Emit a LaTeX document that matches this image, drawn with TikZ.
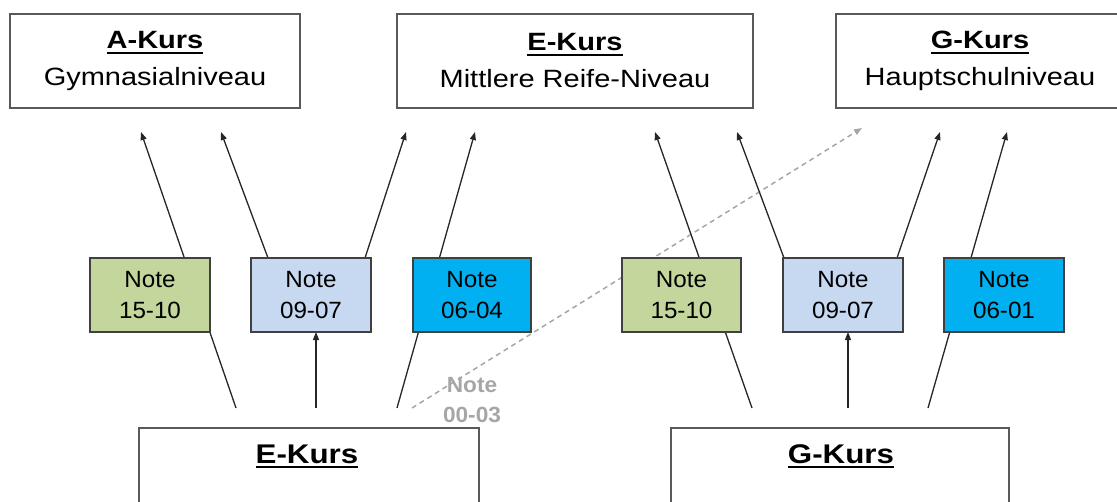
\documentclass[tikz,border=0pt]{standalone}
\usepackage{fontspec}
\setmainfont{Liberation Sans}
\newfontfamily\ttlfont{Liberation Sans}[FakeStretch=1.16]
\newfontfamily\notefont{Liberation Sans}[FakeStretch=1.03]
\usetikzlibrary{arrows.meta,backgrounds}
\definecolor{lnc}{HTML}{262626}
\definecolor{boxc}{HTML}{595959}
\definecolor{nbc}{HTML}{404040}
\definecolor{ngreen}{HTML}{C3D69B}
\definecolor{nlblue}{HTML}{C6D9F1}
\definecolor{nblue}{HTML}{00B0F0}
\definecolor{gtxt}{HTML}{A6A6A6}
\newcommand\myul[1]{\setbox0\hbox{#1}\rlap{\rule[-5pt]{\wd0}{2pt}}\box0}
\tikzset{
  topbox/.style={draw=boxc, line width=1.8pt, fill=white, inner sep=0pt,
    minimum height=94pt, align=center, text=black,
    font=\ttlfont\fontsize{25}{37}\selectfont},
  botbox/.style={draw=boxc, line width=1.8pt, fill=white, inner sep=0pt,
    minimum height=100pt, anchor=north},
  bottext/.style={anchor=base, inner sep=0pt, font=\ttlfont\fontsize{27}{32}\selectfont},
  notebox/.style={draw=nbc, line width=1.3pt, inner sep=0pt, minimum width=120pt,
    minimum height=74pt, align=center, font=\notefont\fontsize{23.5}{31}\selectfont},
  conn/.style={draw=lnc, line width=1.3pt, -{Triangle[length=8pt,width=6pt]}},
  dconn/.style={draw=gtxt, line width=1.5pt, dash pattern=on 5pt off 4pt,
    -{Triangle[length=8pt,width=6pt]}},
  graytext/.style={text=gtxt, align=center, inner sep=0pt,
    font=\notefont\bfseries\fontsize{22}{30}\selectfont}
}
\begin{document}
\begin{tikzpicture}[x=1pt,y=-1pt]
\useasboundingbox (0,0) rectangle (1117,501);

% top target boxes
\node[topbox, minimum width=290pt] (tA) at (155,61) {\myul{\textbf{A-Kurs}}\\Gymnasialniveau};
\node[topbox, minimum width=356pt] (tE) at (575,61) {\myul{\textbf{E-Kurs}}\\Mittlere Reife-Niveau};
\node[topbox, minimum width=288pt] (tG) at (980,61) {\myul{\textbf{G-Kurs}}\\Hauptschulniveau};

% bottom source boxes
\node[botbox, minimum width=340pt] (bE) at (309,427) {};
\node[bottext] (bEt) at (307,463) {\myul{\textbf{E-Kurs}}};
\node[botbox, minimum width=338pt] (bG) at (840,427) {};
\node[bottext] (bGt) at (841,463) {\myul{\textbf{G-Kurs}}};

% note boxes
\node[notebox, fill=ngreen] (n1) at (150,295) {Note\\15-10};
\node[notebox, fill=nlblue] (n2) at (311,295) {Note\\09-07};
\node[notebox, fill=nblue, minimum width=118pt] (n3) at (472,295) {Note\\06-04};
\node[notebox, fill=ngreen, minimum width=119pt] (n4) at (681.5,295) {Note\\15-10};
\node[notebox, fill=nlblue] (n5) at (843,295) {Note\\09-07};
\node[notebox, fill=nblue] (n6) at (1004,295) {Note\\06-01};

% gray note
\node[graytext] (n0) at (472,400) {Note\\00-03};

% connector end points
\coordinate (sL1) at (236,408);  \coordinate (eL1) at (141,132);
\coordinate (sL2) at (316,408);  \coordinate (n2b) at (316,332);
\coordinate (n2l) at (268,258);  \coordinate (eL2) at (221,132);
\coordinate (n2r) at (365,258);  \coordinate (eL3) at (406,132);
\coordinate (sL3) at (397,408);  \coordinate (eL4) at (475,132);
\coordinate (sD)  at (412,408);  \coordinate (eD)  at (862,128);
\coordinate (sR1) at (752,408);  \coordinate (eR1) at (655,132);
\coordinate (sR2) at (848,408);  \coordinate (n5b) at (848,332);
\coordinate (n5l) at (784,258);  \coordinate (eR2) at (737,132);
\coordinate (n5r) at (897,258);  \coordinate (eR3) at (940,132);
\coordinate (sR3) at (928,408);  \coordinate (eR4) at (1007,132);

\begin{scope}[on background layer]
\draw[conn] (sL1) -- (eL1);
\draw[conn] (sL2) -- (n2b);
\draw[conn] (n2l) -- (eL2);
\draw[conn] (n2r) -- (eL3);
\draw[conn] (sL3) -- (eL4);
\draw[dconn] (sD) -- (eD);
\draw[conn] (sR1) -- (eR1);
\draw[conn] (sR2) -- (n5b);
\draw[conn] (n5l) -- (eR2);
\draw[conn] (n5r) -- (eR3);
\draw[conn] (sR3) -- (eR4);
\end{scope}
\end{tikzpicture}
\end{document}
